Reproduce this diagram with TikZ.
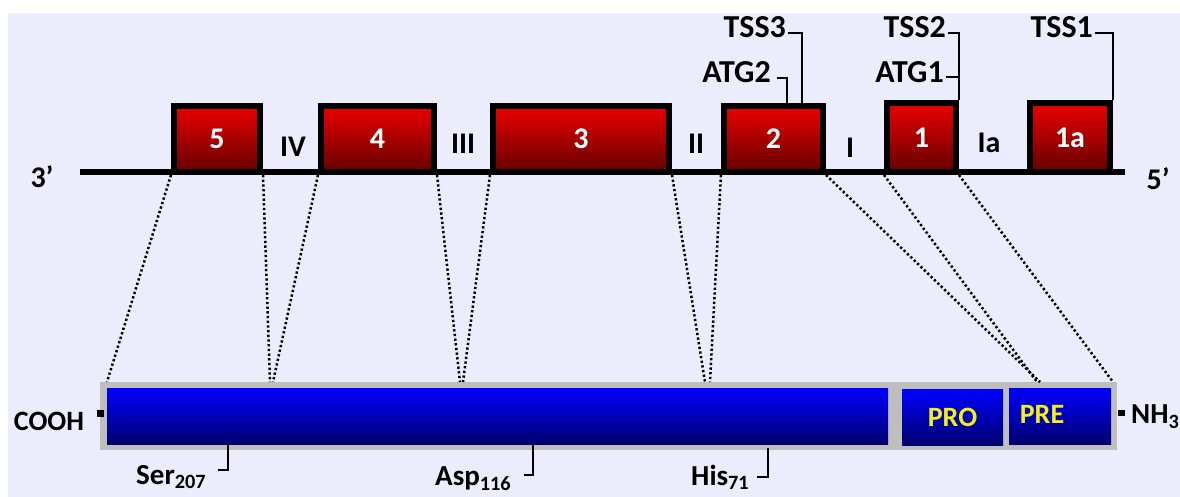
\documentclass[tikz,border=0pt]{standalone}
\usepackage{fontspec}
\setmainfont{Carlito}
\usetikzlibrary{calc}
\definecolor{bg}{RGB}{236,237,252}
\definecolor{exred}{RGB}{235,0,0}
\definecolor{exdark}{RGB}{100,0,0}
\definecolor{ptop}{RGB}{0,0,255}
\definecolor{pbot}{RGB}{0,0,110}
\definecolor{bargray}{RGB}{190,190,190}
\definecolor{yel}{RGB}{245,240,20}
\newcommand\fsz[1]{\fontsize{#1}{#1}\selectfont\bfseries}
\begin{document}
\begin{tikzpicture}[x=1pt,y=-1pt,
 exon/.style={draw=black,line width=6pt,top color=exred,bottom color=exdark,inner sep=0pt,text=white,font=\fsz{30}},
 lab/.style={inner sep=0pt,font=\fsz{30}},
 tlab/.style={inner sep=2pt,font=\fsz{32},anchor=base east},
 leadline/.style={line width=1.7pt},
 resline/.style={line width=2.2pt},
 dotline/.style={line width=2.5pt,dash pattern=on 2.3pt off 2.4pt,black},
 pbox/.style={inner sep=0pt,top color=ptop,bottom color=pbot,draw=none,minimum height=56pt},
 reslab/.style={inner sep=0pt,font=\fsz{29},anchor=base west}
]
\fill[white] (0,0) rectangle (1180,497);
\fill[bg] (8,13) rectangle (1180,497);
\useasboundingbox (0,0) rectangle (1180,497);

% gene line
\coordinate (g3) at (80,172);
\coordinate (g5) at (1125,172);
\draw[line width=6pt] (g3) -- (g5);
\node[lab,font=\fsz{30}] (three) at (42,177) {3’};
\node[lab,font=\fsz{30}] (five) at (1158,179) {5’};

% exons
\node[exon,minimum width=86pt,minimum height=66pt] (e5) at (217,139) {5};
\node[exon,minimum width=113pt,minimum height=66pt] (e4) at (377.5,139) {4};
\node[exon,minimum width=176pt,minimum height=66pt] (e3) at (581,139) {3};
\node[exon,minimum width=99pt,minimum height=66pt] (e2) at (773.5,139) {2};
\node[exon,minimum width=69pt,minimum height=69pt] (e1) at (921.5,137.5) {1};
\node[exon,minimum width=80pt,minimum height=69pt] (e1a) at (1070,137.5) {1a};

% introns
\node[lab] (iIV) at (293,147) {IV};
\node[lab] (iIII) at (463,144) {III};
\node[lab] (iII) at (696,144) {II};
\node[lab] (iI) at (850,148) {I};
\node[lab] (iIa) at (989,143) {Ia};

% TSS / ATG
\node[tlab] (tss3) at (788,38) {TSS3};
\node[tlab] (atg2) at (773,83) {ATG2};
\node[tlab] (tss2) at (948,38) {TSS2};
\node[tlab] (atg1) at (946,83) {ATG1};
\node[tlab] (tss1) at (1095,38) {TSS1};
\coordinate (t3) at ([xshift=28.5pt]e2.north);
\coordinate (a2) at ([xshift=13.5pt]e2.north);
\coordinate (a1) at ([yshift=23pt]e1.north east);
\draw[leadline] ([yshift=5pt]tss3.base east) -| (t3);
\draw[leadline] ([xshift=4pt,yshift=5pt]atg2.base east) -| (a2);
\draw[leadline] ([yshift=5pt]tss2.base east) -| (e1.north east);
\draw[leadline] (a1 -| atg1.east) -- (a1);
\draw[leadline] ([yshift=5pt]tss1.base east) -| (e1a.north east);

% protein bar
\node[fill=bargray,inner sep=0pt,minimum width=1017pt,minimum height=68pt] (bar) at (608.5,416) {};
\node[pbox,minimum width=781pt] (pm) at (497.5,416) {};
\node[pbox,minimum width=101pt,text=yel,font=\fsz{28}] (pro) at (952.5,417) {PRO};
\node[pbox,minimum width=102pt] (pre) at (1060,416) {};
\node[lab,font=\fsz{28},text=yel] (pretxt) at (1042,414) {PRE};

% termini
\node[lab,font=\fsz{28}] (cooh) at (49,421) {COOH};
\fill (97,410) rectangle (104,417);
\node[lab,font=\fsz{29},anchor=west] (nh3) at (1131,417) {NH\textsubscript{3}};
\fill (1118,410) rectangle (1125,416);

% dotted mapping lines
\coordinate (p1) at (107,382);
\coordinate (p2) at (270,382);
\coordinate (p3) at (273,382);
\coordinate (p4) at (460,382);
\coordinate (p5) at (463,382);
\coordinate (p6) at (705,382);
\coordinate (p7) at (710,382);
\coordinate (p8) at (1040,382);
\coordinate (p9) at (1037,382);
\coordinate (p10) at (1113,382);
\draw[dotline] (e5.south west) -- (p1);
\draw[dotline] (e5.south east) -- (p2);
\draw[dotline] (e4.south west) -- (p3);
\draw[dotline] (e4.south east) -- (p4);
\draw[dotline] (e3.south west) -- (p5);
\draw[dotline] (e3.south east) -- (p6);
\draw[dotline] (e2.south west) -- (p7);
\draw[dotline] (e2.south east) -- (p8);
\draw[dotline] (e1.south west) -- (p9);
\draw[dotline] (e1.south east) -- (p10);

% residues
\node[reslab] (ser) at (136,484) {Ser\textsubscript{207}};
\node[reslab] (asp) at (435,485) {Asp\textsubscript{116}};
\node[reslab] (his) at (691,485) {His\textsubscript{71}};
\coordinate (s1) at (228,444);
\coordinate (s1e) at (218,470);
\coordinate (d1) at (533,444);
\coordinate (d1e) at (524,475);
\coordinate (h1) at (768,448);
\coordinate (h1e) at (757,477);
\draw[resline] (s1) |- (s1e);
\draw[resline] (d1) |- (d1e);
\draw[resline] (h1) |- (h1e);
\end{tikzpicture}
\end{document}
